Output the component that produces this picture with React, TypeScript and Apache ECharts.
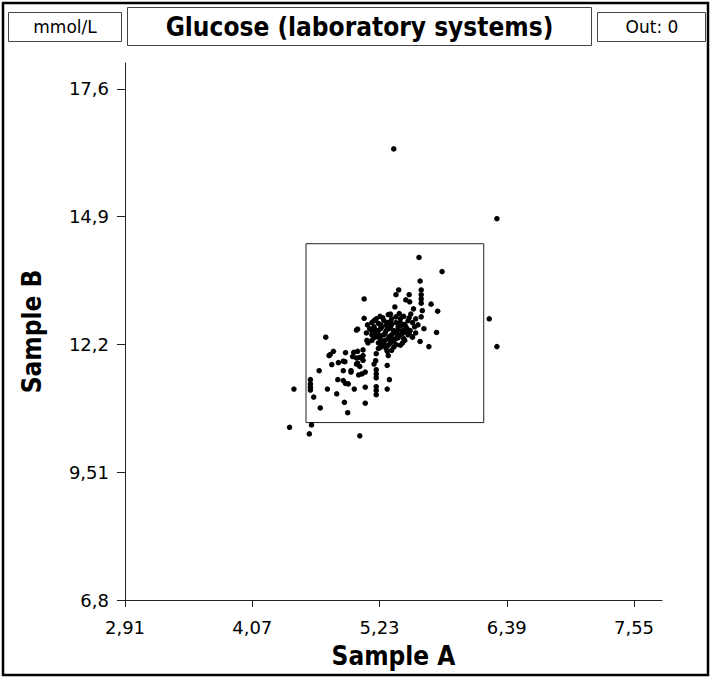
import React, { useEffect, useRef } from "react";
import * as echarts from "echarts";

const xTickValues = [2.91, 4.07, 5.23, 6.39, 7.55];
const xTickLabels = ["2,91", "4,07", "5,23", "6,39", "7,55"];
const yTickValues = [6.8, 9.5075, 12.215, 14.9225, 17.63];
const yTickLabels = ["6,8", "9,51", "12,2", "14,9", "17,6"];
const xRange = [2.91, 7.805];
const yRange = [6.8, 18.18];

const unitLabel = "mmol/L";
const titleText = "Glucose (laboratory systems)";
const outLabel = "Out: 0";
const xName = "Sample A";
const yName = "Sample B";

// acceptance box: [xMin, yMax] -> [xMax, yMin]
const boxCorners = [
  [4.56, 14.35],
  [6.18, 10.56],
];

const outerPoints = [
  [5.36, 16.36],
  [6.3, 14.88],
  [6.23, 12.76],
  [6.3, 12.17],
  [4.41, 10.46],
  [4.45, 11.27],
  [4.61, 10.51],
  [4.59, 10.32],
  [5.05, 10.28],
];

const upperPoints = [
  [5.59, 14.06], [5.8, 13.76], [5.6, 13.56], [5.61, 13.37], [5.61, 13.27],
  [5.61, 13.18], [5.61, 13.09], [5.405, 13.37], [5.38, 13.27], [5.5, 13.27],
  [5.09, 13.18], [5.47, 13.16], [5.505, 13.12], [5.7, 13.07], [5.37, 13.01],
  [5.54, 12.97], [5.76, 12.92], [5.61, 12.8], [5.75, 12.47], [5.6, 12.28],
  [5.68, 12.17], [5.53, 12.37], [4.74, 12.37], [5.09, 12.77], [5.12, 12.63],
  [5.03, 12.54], [5.02, 12.52], [5.11, 12.46], [5.115, 12.3], [5.33, 12.86],
  [5.41, 12.87], [5.515, 12.86],
];

const densePoints = [
  [5.16, 12.68], [5.2, 12.76], [5.235, 12.81], [5.27, 12.72], [5.31, 12.85],
  [5.34, 12.76], [5.38, 12.68], [5.42, 12.76], [5.45, 12.81], [5.49, 12.72],
  [5.53, 12.68], [5.56, 12.76], [5.14, 12.55], [5.18, 12.59], [5.22, 12.51],
  [5.25, 12.59], [5.29, 12.51], [5.33, 12.59], [5.36, 12.51], [5.4, 12.59],
  [5.44, 12.51], [5.47, 12.59], [5.51, 12.51], [5.55, 12.59], [5.16, 12.42],
  [5.2, 12.38], [5.235, 12.34], [5.27, 12.42], [5.31, 12.34], [5.34, 12.42],
  [5.38, 12.34], [5.42, 12.42], [5.45, 12.34], [5.49, 12.42], [5.53, 12.38],
  [5.22, 12.25], [5.27, 12.21], [5.33, 12.25], [5.38, 12.21], [5.44, 12.25],
  [5.29, 12.13], [5.34, 12.09], [5.22, 12.13], [5.16, 12.3], [5.125, 12.25],
  [5.58, 12.63], [5.56, 12.46], [5.635, 12.55], [5.62, 12.93],
  [5.18, 12.72], [5.22, 12.66], [5.26, 12.78], [5.3, 12.68], [5.34, 12.64],
  [5.38, 12.8], [5.42, 12.68], [5.46, 12.64], [5.5, 12.78], [5.16, 12.5],
  [5.2, 12.47], [5.24, 12.55], [5.28, 12.45], [5.32, 12.55], [5.36, 12.46],
  [5.4, 12.53], [5.44, 12.45], [5.48, 12.55], [5.18, 12.36], [5.24, 12.4],
  [5.28, 12.3], [5.32, 12.38], [5.36, 12.29], [5.4, 12.36], [5.46, 12.3],
  [5.5, 12.46], [5.25, 12.18], [5.31, 12.2], [5.36, 12.16], [5.42, 12.2],
  [5.21, 12.43], [5.29, 12.62], [5.35, 12.33], [5.43, 12.62], [5.26, 12.27],
  [5.47, 12.49], [5.19, 12.53], [5.33, 12.7], [5.39, 12.44], [5.24, 12.63],
];

const lowerPoints = [
  [4.81, 12.07], [4.77, 11.98], [4.78, 12.0], [4.92, 12.04], [4.915, 11.85],
  [4.995, 12.05], [5.03, 12.07], [5.08, 12.1], [5.08, 11.98], [4.985, 11.96],
  [5.02, 11.93], [5.05, 11.94], [5.2, 12.02], [5.195, 11.87], [5.235, 12.15],
  [5.3, 12.07], [5.31, 11.98], [4.855, 11.83], [4.9, 11.86], [4.795, 11.79],
  [4.68, 11.66], [4.9, 11.66], [4.97, 11.66], [4.97, 11.63], [5.03, 11.82],
  [5.05, 11.75], [5.02, 11.8], [5.07, 11.59], [5.04, 11.57], [5.1, 11.63],
  [5.2, 11.68], [5.2, 11.59], [5.2, 11.51], [5.3, 11.77], [5.32, 11.47],
  [4.6, 11.47], [4.6, 11.38], [4.6, 11.31], [4.6, 11.25], [4.755, 11.27],
  [4.85, 11.47], [4.9, 11.45], [4.92, 11.39], [4.945, 11.38], [5.0, 11.27],
  [5.1, 11.31], [5.2, 11.32], [5.2, 11.24], [5.2, 11.15], [5.3, 11.27],
  [4.63, 11.1], [4.84, 11.17], [4.69, 10.87], [4.91, 10.99], [5.1, 10.97],
  [4.94, 10.77], [5.18, 11.8], [5.08, 11.88],
];

const FONT = "DejaVu Sans";
const FONT_BOLD = "'DejaVu Sans Condensed', 'DejaVu Sans'";

export default function App() {
  const ref = useRef<HTMLDivElement>(null);
  useEffect(() => {
    if (!ref.current) return;
    const chart = echarts.init(ref.current, null, { renderer: "svg" });
    const allPoints = [...outerPoints, ...upperPoints, ...densePoints, ...lowerPoints];
    const fmt = (vals: number[], labels: string[]) => (v: number) => {
      let best = 0;
      for (let i = 1; i < vals.length; i++) {
        if (Math.abs(vals[i] - v) < Math.abs(vals[best] - v)) best = i;
      }
      return labels[best];
    };
    chart.setOption({
      animation: false,
      backgroundColor: "#fff",
      grid: { left: 125, right: 49, top: 63, bottom: 78, containLabel: false },
      xAxis: {
        type: "value",
        min: xRange[0],
        max: xRange[1],
        name: xName,
        nameLocation: "middle",
        nameGap: 43,
        nameTextStyle: { fontFamily: FONT_BOLD, fontSize: 26, fontWeight: "bold", color: "#000" },
        axisLine: { show: true, onZero: false, lineStyle: { color: "#222", width: 1 } },
        axisTick: { show: true, length: 7, customValues: xTickValues, lineStyle: { color: "#222" } },
        axisLabel: {
          customValues: xTickValues,
          formatter: fmt(xTickValues, xTickLabels),
          fontFamily: FONT,
          fontSize: 18,
          color: "#000",
          margin: 18,
        },
        splitLine: { show: false },
      },
      yAxis: {
        type: "value",
        min: yRange[0],
        max: yRange[1],
        name: yName,
        nameLocation: "middle",
        nameGap: 80,
        nameTextStyle: { fontFamily: FONT_BOLD, fontSize: 26, fontWeight: "bold", color: "#000" },
        axisLine: { show: true, onZero: false, lineStyle: { color: "#222", width: 1 } },
        axisTick: { show: true, length: 8, customValues: yTickValues, lineStyle: { color: "#222" } },
        axisLabel: {
          customValues: yTickValues,
          formatter: fmt(yTickValues, yTickLabels),
          fontFamily: FONT,
          fontSize: 18,
          color: "#000",
          margin: 16,
        },
        splitLine: { show: false },
      },
      series: [
        {
          type: "scatter",
          data: allPoints,
          symbolSize: 5.5,
          itemStyle: { color: "#000", opacity: 1 },
          silent: true,
          markArea: {
            silent: true,
            itemStyle: { color: "rgba(0,0,0,0)", borderColor: "#222", borderWidth: 1 },
            data: [[{ coord: boxCorners[0] }, { coord: boxCorners[1] }]],
          },
        },
      ],
      graphic: [
        {
          type: "rect",
          shape: { x: 3, y: 3, width: 705, height: 672 },
          style: { fill: "none", stroke: "#000", lineWidth: 2.5 },
          silent: true,
        },
        {
          type: "rect",
          shape: { x: 8.5, y: 12.5, width: 113, height: 29 },
          style: { fill: "none", stroke: "#444", lineWidth: 1 },
        },
        {
          type: "text",
          x: 65,
          y: 27,
          style: { text: unitLabel, fontFamily: FONT, fontSize: 17, fill: "#000", align: "center", verticalAlign: "middle" },
        },
        {
          type: "rect",
          shape: { x: 127.5, y: 7.5, width: 464, height: 38 },
          style: { fill: "none", stroke: "#444", lineWidth: 1 },
        },
        {
          type: "text",
          x: 359.5,
          y: 27,
          style: { text: titleText, fontFamily: FONT_BOLD, fontSize: 26, fontWeight: "bold", fill: "#000", align: "center", verticalAlign: "middle" },
        },
        {
          type: "rect",
          shape: { x: 597.5, y: 12.5, width: 108, height: 29 },
          style: { fill: "none", stroke: "#444", lineWidth: 1 },
        },
        {
          type: "text",
          x: 652,
          y: 27,
          style: { text: outLabel, fontFamily: FONT, fontSize: 17, fill: "#000", align: "center", verticalAlign: "middle" },
        },
      ],
    });
    return () => chart.dispose();
  }, []);
  return (
    <div
      ref={ref}
      style={{ position: "absolute", left: 0, top: 0, width: 711, height: 678 }}
    />
  );
}
